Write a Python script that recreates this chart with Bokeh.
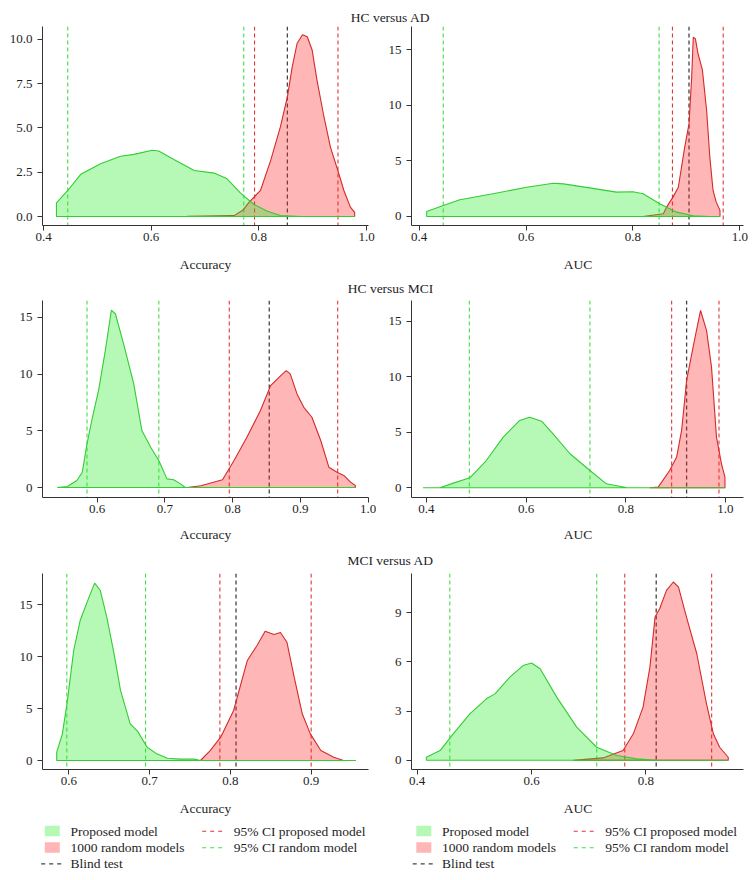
from bokeh.plotting import figure
from bokeh.models import Range1d, FixedTicker, NumeralTickFormatter, Span
from bokeh.layouts import column, row
from bokeh.embed import file_html
from bokeh.resources import INLINE
from bokeh.core.properties import value

FONT = "Liberation Serif"

# ---------------- data ----------------
row_titles = ["HC versus AD", "HC versus MCI", "MCI versus AD"]
x_labels = ["Accuracy", "AUC"]
legend_fill_labels = ["Proposed model", "1000 random models"]
legend_line_labels = ["95% CI proposed model", "95% CI random model"]
legend_blind_label = "Blind test"

# Panel 1: HC vs AD, Accuracy
p1_prop_x = [0.424, 0.445, 0.469, 0.506, 0.543, 0.568, 0.602, 0.614, 0.643, 0.680, 0.717, 0.741, 0.766, 0.791, 0.816, 0.840, 0.878, 0.978]
p1_prop_y = [0.77, 1.47, 2.38, 2.98, 3.40, 3.51, 3.74, 3.70, 3.21, 2.60, 2.45, 2.13, 1.32, 0.68, 0.30, 0.06, 0.0, 0.0]
p1_rand_x = [0.560, 0.667, 0.754, 0.770, 0.782, 0.803, 0.822, 0.840, 0.853, 0.862, 0.871, 0.881, 0.890, 0.899, 0.908, 0.921, 0.933, 0.947, 0.958, 0.970, 0.978]
p1_rand_y = [0.0, 0.01, 0.05, 0.35, 0.81, 1.47, 3.17, 5.06, 6.75, 8.45, 9.77, 10.26, 10.15, 9.40, 7.70, 5.62, 3.92, 2.57, 1.47, 0.53, 0.23]
p1_ci_prop = [0.792, 0.947]
p1_ci_rand = [0.445, 0.772]
p1_blind = 0.853

# Panel 2: HC vs AD, AUC
p2_prop_x = [0.414, 0.445, 0.476, 0.538, 0.601, 0.651, 0.670, 0.719, 0.769, 0.800, 0.819, 0.850, 0.882, 0.913, 0.944, 0.963]
p2_prop_y = [0.45, 0.99, 1.50, 2.04, 2.63, 2.99, 2.93, 2.57, 2.19, 2.22, 2.04, 1.14, 0.39, 0.06, 0.0, 0.0]
p2_rand_x = [0.819, 0.857, 0.863, 0.875, 0.885, 0.891, 0.897, 0.905, 0.910, 0.913, 0.917, 0.922, 0.930, 0.938, 0.944, 0.950, 0.956, 0.963]
p2_rand_y = [0.0, 0.24, 0.84, 1.74, 2.63, 4.43, 6.23, 8.32, 12.5, 16.1, 15.96, 14.6, 13.2, 9.52, 5.33, 2.34, 1.29, 0.54]
p2_ci_prop = [0.874, 0.969]
p2_ci_rand = [0.445, 0.849]
p2_blind = 0.905

# Panel 3: HC vs MCI, Accuracy
p3_prop_x = [0.541, 0.556, 0.570, 0.578, 0.585, 0.593, 0.602, 0.612, 0.621, 0.627, 0.639, 0.654, 0.666, 0.679, 0.691, 0.703, 0.713, 0.723, 0.730, 0.981]
p3_prop_y = [0.0, 0.09, 0.62, 1.35, 3.85, 6.19, 8.54, 12.06, 15.64, 15.29, 12.65, 9.13, 5.02, 3.55, 2.38, 0.76, 0.68, 0.32, 0.0, 0.0]
p3_rand_x = [0.733, 0.753, 0.785, 0.802, 0.821, 0.841, 0.856, 0.871, 0.879, 0.885, 0.895, 0.905, 0.917, 0.930, 0.942, 0.954, 0.964, 0.974, 0.981]
p3_rand_y = [0.0, 0.15, 0.68, 2.38, 4.43, 6.78, 8.98, 9.86, 10.30, 10.01, 8.25, 7.07, 6.19, 4.14, 1.79, 1.35, 1.06, 0.47, 0.18]
p3_ci_prop = [0.795, 0.955]
p3_ci_rand = [0.585, 0.691]
p3_blind = 0.854

# Panel 4: HC vs MCI, AUC
p4_prop_x = [0.393, 0.427, 0.454, 0.487, 0.520, 0.554, 0.587, 0.607, 0.631, 0.654, 0.688, 0.728, 0.761, 0.801, 0.835, 1.0]
p4_prop_y = [0.0, 0.0, 0.42, 0.90, 2.46, 4.57, 6.07, 6.37, 6.01, 4.87, 3.07, 1.56, 0.36, 0.03, 0.0, 0.0]
p4_rand_x = [0.848, 0.865, 0.888, 0.902, 0.912, 0.922, 0.935, 0.950, 0.962, 0.972, 0.982, 0.992, 0.999]
p4_rand_y = [0.0, 0.06, 1.56, 2.77, 5.17, 9.68, 12.68, 15.99, 14.19, 10.88, 4.57, 2.16, 0.96]
p4_ci_prop = [0.892, 0.987]
p4_ci_rand = [0.486, 0.728]
p4_blind = 0.922

# Panel 5: MCI vs AD, Accuracy
p5_prop_x = [0.585, 0.592, 0.598, 0.606, 0.614, 0.625, 0.632, 0.639, 0.647, 0.656, 0.664, 0.676, 0.685, 0.697, 0.709, 0.722, 0.738, 0.755, 0.763, 0.955]
p5_prop_y = [0.80, 2.57, 5.62, 10.60, 13.49, 15.74, 17.09, 16.38, 13.81, 10.28, 6.75, 3.53, 2.83, 1.28, 0.64, 0.22, 0.13, 0.13, 0.0, 0.0]
p5_rand_x = [0.763, 0.775, 0.788, 0.804, 0.821, 0.833, 0.843, 0.854, 0.862, 0.870, 0.879, 0.889, 0.899, 0.912, 0.928, 0.940, 0.955]
p5_rand_y = [0.0, 0.96, 2.25, 4.82, 9.64, 11.08, 12.46, 12.14, 12.34, 11.40, 8.03, 4.50, 2.57, 0.96, 0.32, 0.0, 0.0]
p5_ci_prop = [0.787, 0.900]
p5_ci_rand = [0.5975, 0.695]
p5_blind = 0.807

# Panel 6: MCI vs AD, AUC
p6_prop_x = [0.416, 0.440, 0.463, 0.492, 0.521, 0.536, 0.562, 0.585, 0.600, 0.615, 0.644, 0.679, 0.714, 0.749, 0.784, 0.819, 0.944]
p6_prop_y = [0.18, 0.59, 1.61, 2.83, 3.75, 4.05, 5.07, 5.78, 5.93, 5.58, 3.85, 2.02, 0.79, 0.29, 0.08, 0.0, 0.0]
p6_rand_x = [0.673, 0.725, 0.760, 0.778, 0.795, 0.807, 0.816, 0.824, 0.836, 0.848, 0.857, 0.871, 0.889, 0.906, 0.918, 0.929, 0.944]
p6_rand_y = [0.0, 0.14, 0.59, 1.61, 3.24, 5.68, 8.74, 9.25, 10.37, 10.88, 10.57, 8.74, 6.50, 3.44, 1.61, 0.79, 0.18]
p6_ci_prop = [0.763, 0.915]
p6_ci_rand = [0.457, 0.714]
p6_blind = 0.818

# axis ticks
p1_xticks = [0.4, 0.6, 0.8, 1.0]; p1_yticks = [0.0, 2.5, 5.0, 7.5, 10.0]
p2_xticks = [0.4, 0.6, 0.8, 1.0]; p2_yticks = [0, 5, 10, 15]
p3_xticks = [0.6, 0.7, 0.8, 0.9, 1.0]; p3_yticks = [0, 5, 10, 15]
p4_xticks = [0.4, 0.6, 0.8, 1.0]; p4_yticks = [0, 5, 10, 15]
p5_xticks = [0.6, 0.7, 0.8, 0.9]; p5_yticks = [0, 5, 10, 15]
p6_xticks = [0.4, 0.6, 0.8]; p6_yticks = [0, 3, 6, 9]

# ---------------- styling ----------------
GREEN_FILL = "#22ee22"
RED_FILL = "#ff2020"
FILL_ALPHA = 0.33
GREEN_LINE = "#33cc33"
RED_LINE = "#d42a2a"
GREEN_DASH = "#44dd44"
RED_DASH = "#e43535"
BLACK_DASH = "#444444"
AXIS_COL = "#333333"
TEXT_COL = "#1e1e1e"
DASH = "4 3"
TICK_SIZE = "13px"
TEXT_SIZE = "13.5px"

LW, RW = 376, 372
TW = LW + RW
LEFT_LABEL_X = 205      # centre of left frames
RIGHT_LABEL_X = 577.5   # centre of right frames
TITLE_X = 390


def make_panel(width, height, bl, br, bt, bb, xr, yr, xticks, yticks, yfmt,
               prop_x, prop_y, rand_x, rand_y, ci_prop, ci_rand, blind):
    p = figure(width=width, height=height, x_range=Range1d(*xr), y_range=Range1d(*yr),
               output_backend="svg", toolbar_location=None, title=None,
               min_border_left=bl, min_border_right=br, min_border_top=bt, min_border_bottom=bb)
    p.outline_line_color = None
    p.grid.visible = False

    for v in ci_rand:
        p.add_layout(Span(location=v, dimension="height", line_color=GREEN_DASH, line_width=1.1,
                          line_dash=DASH, level="underlay"))
    for v in ci_prop:
        p.add_layout(Span(location=v, dimension="height", line_color=RED_DASH, line_width=1.1,
                          line_dash=DASH, level="underlay"))
    p.add_layout(Span(location=blind, dimension="height", line_color=BLACK_DASH, line_width=1.3,
                      line_dash=DASH, level="underlay"))

    # densities: random (red) first, proposed (green) on top
    p.patch(x=[rand_x[0]] + rand_x + [rand_x[-1]], y=[0] + rand_y + [0],
            fill_color=RED_FILL, fill_alpha=FILL_ALPHA, line_color=RED_LINE, line_width=1.1)
    p.patch(x=[prop_x[0]] + prop_x + [prop_x[-1]], y=[0] + prop_y + [0],
            fill_color=GREEN_FILL, fill_alpha=FILL_ALPHA, line_color=GREEN_LINE, line_width=1.1)

    p.xaxis.ticker = FixedTicker(ticks=xticks)
    p.yaxis.ticker = FixedTicker(ticks=yticks)
    p.xaxis.formatter = NumeralTickFormatter(format="0.0")
    p.yaxis.formatter = NumeralTickFormatter(format=yfmt)
    for ax in p.axis:
        ax.axis_line_color = AXIS_COL
        ax.axis_line_width = 1
        ax.major_tick_line_color = AXIS_COL
        ax.minor_tick_line_color = None
        ax.major_tick_out = 5
        ax.major_tick_in = 0
        ax.major_label_text_font = FONT
        ax.major_label_text_font_size = TICK_SIZE
        ax.major_label_text_color = TEXT_COL
    p.xaxis.major_label_standoff = 2
    p.yaxis.major_label_standoff = 5
    return p


def strip(height):
    s = figure(width=TW, height=height, x_range=Range1d(0, TW), y_range=Range1d(height, 0),
               output_backend="svg", toolbar_location=None, title=None,
               x_axis_location=None, y_axis_location=None, min_border=0)
    s.outline_line_color = None
    s.grid.visible = False
    return s


def add_text(s, xs, ys, texts, align="center", baseline="alphabetic"):
    s.text(x=xs, y=ys, text=texts, text_font=value(FONT), text_font_size=TEXT_SIZE,
           text_align=align, text_baseline=baseline, text_color=TEXT_COL)


# row figures: frame tops at page y 26 / 300 / 573
p1 = make_panel(LW, 225, 42, 8, 1, 25, (0.3981, 1.0037), (-0.508, 10.73), p1_xticks, p1_yticks, "0.0",
                p1_prop_x, p1_prop_y, p1_rand_x, p1_rand_y, p1_ci_prop, p1_ci_rand, p1_blind)
p2 = make_panel(RW, 225, 35, 5, 1, 25, (0.3856, 1.0070), (-0.809, 17.07), p2_xticks, p2_yticks, "0",
                p2_prop_x, p2_prop_y, p2_rand_x, p2_rand_y, p2_ci_prop, p2_ci_rand, p2_blind)
p3 = make_panel(LW, 223, 42, 8, 1, 25, (0.5193, 1.0005), (-0.881, 16.48), p3_xticks, p3_yticks, "0",
                p3_prop_x, p3_prop_y, p3_rand_x, p3_rand_y, p3_ci_prop, p3_ci_rand, p3_blind)
p4 = make_panel(RW, 223, 35, 5, 1, 25, (0.3699, 1.0362), (-0.875, 16.89), p4_xticks, p4_yticks, "0",
                p4_prop_x, p4_prop_y, p4_rand_x, p4_rand_y, p4_ci_prop, p4_ci_rand, p4_blind)
p5 = make_panel(LW, 222, 42, 8, 1, 25, (0.5674, 0.9710), (-0.867, 18.02), p5_xticks, p5_yticks, "0",
                p5_prop_x, p5_prop_y, p5_rand_x, p5_rand_y, p5_ci_prop, p5_ci_rand, p5_blind)
p6 = make_panel(RW, 222, 35, 5, 1, 25, (0.390, 0.9707), (-0.568, 11.40), p6_xticks, p6_yticks, "0",
                p6_prop_x, p6_prop_y, p6_rand_x, p6_rand_y, p6_ci_prop, p6_ci_rand, p6_blind)

# strip above row 1: title
s1 = strip(25)
add_text(s1, [TITLE_X], [16.7], [row_titles[0]])
# strip between row 1 and row 2: axis labels + title
s2 = strip(49)
add_text(s2, [LEFT_LABEL_X, RIGHT_LABEL_X], [13.5, 13.5], x_labels)
add_text(s2, [TITLE_X], [37.5], [row_titles[1]])
# strip between row 2 and row 3
s3 = strip(50)
add_text(s3, [LEFT_LABEL_X, RIGHT_LABEL_X], [11.5, 11.5], x_labels)
add_text(s3, [TITLE_X], [37.5], [row_titles[2]])

# bottom strip: axis labels + legends
leg = strip(80)
add_text(leg, [LEFT_LABEL_X, RIGHT_LABEL_X], [13.5, 13.5], x_labels)
row_y = [36.7, 53.3, 69.3]
for off in [0, 371.5]:
    leg.rect(x=[51.8 + off], y=[row_y[0] - 0.2], width=15, height=10.5, fill_color=GREEN_FILL,
             fill_alpha=FILL_ALPHA, line_color=None)
    leg.rect(x=[51.8 + off], y=[row_y[1] - 0.2], width=15, height=10.5, fill_color=RED_FILL,
             fill_alpha=FILL_ALPHA, line_color=None)
    leg.segment(x0=[40.7 + off], y0=[row_y[2]], x1=[62.7 + off], y1=[row_y[2]], line_color=BLACK_DASH,
                line_width=1.2, line_dash="4 4")
    leg.segment(x0=[201.7 + off], y0=[row_y[0]], x1=[223.3 + off], y1=[row_y[0]], line_color=RED_DASH,
                line_width=1.1, line_dash="4 4")
    leg.segment(x0=[201.7 + off], y0=[row_y[1]], x1=[223.3 + off], y1=[row_y[1]], line_color=GREEN_DASH,
                line_width=1.1, line_dash="4 4")
    add_text(leg, [70 + off] * 3, row_y, legend_fill_labels + [legend_blind_label], align="left",
             baseline="middle")
    add_text(leg, [233.3 + off] * 2, row_y[:2], legend_line_labels, align="left", baseline="middle")

layout = column(s1, row(p1, p2), s2, row(p3, p4), s3, row(p5, p6), leg)

open("out.html", "w").write(file_html(layout, INLINE))
